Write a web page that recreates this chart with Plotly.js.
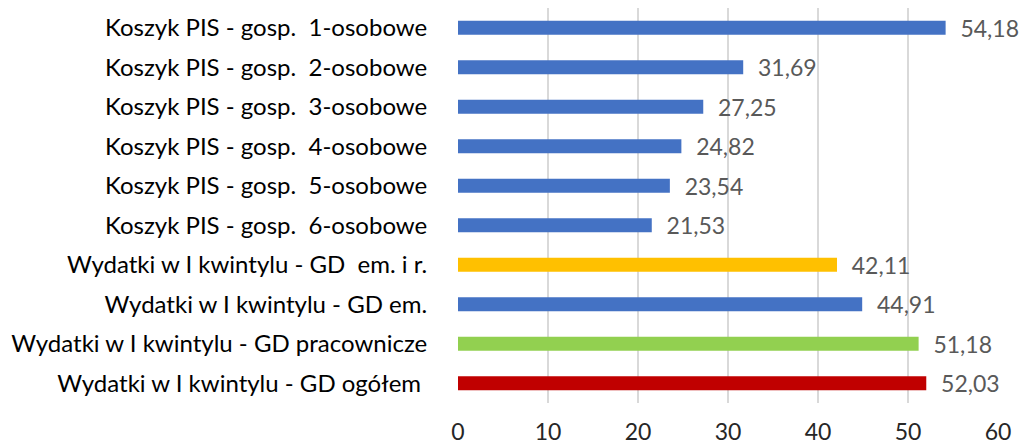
<!DOCTYPE html>
<html>
<head>
<meta charset="utf-8">
<script src="https://cdn.plot.ly/plotly-3.0.1.min.js"></script>
<style>html,body{margin:0;padding:0;background:#fff;}#chart{width:1023px;height:444px;}</style>
</head>
<body>
<div id="chart"></div>
<script>
var NB = '\u00a0';
var categories = [
  'Koszyk PIS - gosp.' + NB + NB + '1-osobowe',
  'Koszyk PIS - gosp.' + NB + NB + '2-osobowe',
  'Koszyk PIS - gosp.' + NB + NB + '3-osobowe',
  'Koszyk PIS - gosp.' + NB + NB + '4-osobowe',
  'Koszyk PIS - gosp.' + NB + NB + '5-osobowe',
  'Koszyk PIS - gosp.' + NB + NB + '6-osobowe',
  'Wydatki w I kwintylu - GD' + NB + NB + 'em. i r.',
  'Wydatki w I kwintylu - GD em.',
  'Wydatki w I kwintylu - GD pracownicze',
  'Wydatki w I kwintylu - GD ogółem' + NB
];
var values = [54.18, 31.69, 27.25, 24.82, 23.54, 21.53, 42.11, 44.91, 51.18, 52.03];
var barColors = ['#4472C4','#4472C4','#4472C4','#4472C4','#4472C4','#4472C4','#FFC000','#4472C4','#92D050','#C00000'];
var tickVals = [0, 10, 20, 30, 40, 50, 60];

var labels = values.map(function(v){ return NB + NB + v.toFixed(2).replace('.', ','); });

var trace = {
  type: 'bar',
  orientation: 'h',
  x: values,
  y: categories,
  marker: {color: barColors},
  width: 0.36,
  text: labels,
  textposition: 'outside',
  textfont: {family: 'Lato, "Open Sans", sans-serif', size: 23, color: '#595959'},
  constraintext: 'none',
  cliponaxis: false,
  hoverinfo: 'none'
};

var layout = {
  width: 1023,
  height: 444,
  margin: {l: 458, r: 25, t: 8, b: 41, pad: 0},
  paper_bgcolor: '#ffffff',
  plot_bgcolor: '#ffffff',
  showlegend: false,
  font: {family: 'Lato, "Open Sans", sans-serif', size: 23, color: '#000000'},
  xaxis: {
    range: [0, 60],
    tickvals: tickVals,
    ticktext: tickVals.map(String),
    showgrid: true,
    gridcolor: '#d9d9d9',
    gridwidth: 1.5,
    zeroline: false,
    showline: false,
    ticks: 'outside',
    ticklen: 8,
    tickcolor: 'rgba(0,0,0,0)',
    tickfont: {size: 23, color: '#262626'},
    fixedrange: true
  },
  yaxis: {
    type: 'category',
    autorange: 'reversed',
    showgrid: false,
    zeroline: false,
    showline: false,
    ticks: 'outside',
    ticklen: 25,
    tickcolor: 'rgba(0,0,0,0)',
    tickfont: {size: 24, color: '#000000'},
    fixedrange: true
  }
};

Plotly.newPlot('chart', [trace], layout, {displayModeBar: false, staticPlot: true});
</script>
</body>
</html>
